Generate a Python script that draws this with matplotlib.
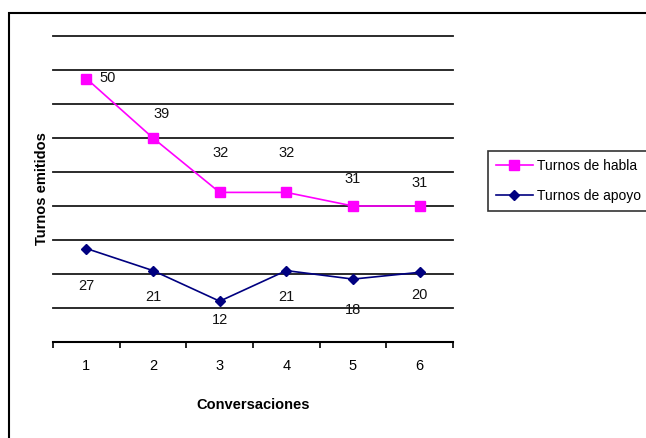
#!/usr/bin/env python3

import matplotlib
matplotlib.use("Agg")
import matplotlib.pyplot as plt
from matplotlib.patches import Rectangle

plt.rcParams["font.family"] = ["Liberation Sans", "DejaVu Sans"]

CONVERSACIONES = [1, 2, 3, 4, 5, 6]

HABLA_PLOT = [77.5, 60, 44, 44, 40, 40]
HABLA_LABELS = ["50", "39", "32", "32", "31", "31"]
APOYO_PLOT = [27.5, 21, 12, 21, 18.5, 20.5]
APOYO_LABELS = ["27", "21", "12", "21", "18", "20"]

SERIES_NAMES = ["Turnos de habla", "Turnos de apoyo"]

# label offsets in pixels (dx, dy)
HABLA_OFFSETS = [(21, 1), (9, 24), (1, 39), (0, 39), (0, 27), (0, 23)]
APOYO_OFFSETS = [(0, -37), (0, -26), (0, -19), (0, -26), (0, -31), (0, -23)]

PINK = "#ff00ff"
NAVY = "#000080"
FS = 10.5


def main() -> None:
    fig = plt.figure(figsize=(6.46, 4.38), dpi=100)
    W, H = 646, 438

    # outer chart frame (right/bottom edges fall outside the picture)
    fig.patches.append(
        Rectangle((9 / W, -0.2), 1.5, 1.2 - 13 / H, transform=fig.transFigure,
                  fill=False, edgecolor="black", linewidth=1.5)
    )

    left, right, top, bottom = 53, 453, 36, 342
    ax = fig.add_axes([left / W, 1 - bottom / H, (right - left) / W, (bottom - top) / H])

    ax.set_xlim(0.5, 6.5)
    ax.set_ylim(0, 90)

    for y in range(10, 100, 10):
        ax.axhline(y, color="#1a1a1a", linewidth=1.3, zorder=1, clip_on=False)

    ax.plot(CONVERSACIONES, HABLA_PLOT, color=PINK, linewidth=1.2, marker="s",
            markersize=6.5, markeredgecolor=PINK, label=SERIES_NAMES[0], zorder=3)
    ax.plot(CONVERSACIONES, APOYO_PLOT, color=NAVY, linewidth=1.2, marker="D",
            markersize=5, markeredgecolor=NAVY, label=SERIES_NAMES[1], zorder=3)

    for x, y, txt, (dx, dy) in zip(CONVERSACIONES, HABLA_PLOT, HABLA_LABELS, HABLA_OFFSETS):
        ax.annotate(txt, (x, y), xytext=(dx, dy), textcoords="offset pixels",
                    ha="center", va="center", fontsize=FS, color="#111111")
    for x, y, txt, (dx, dy) in zip(CONVERSACIONES, APOYO_PLOT, APOYO_LABELS, APOYO_OFFSETS):
        ax.annotate(txt, (x, y), xytext=(dx, dy), textcoords="offset pixels",
                    ha="center", va="center", fontsize=FS, color="#111111")

    for side in ["left", "right", "top"]:
        ax.spines[side].set_visible(False)
    ax.spines["bottom"].set_linewidth(1.5)
    ax.spines["bottom"].set_zorder(2)

    ax.set_yticks([])
    ax.set_xticks(CONVERSACIONES)
    ax.set_xticks([v + 0.5 for v in range(0, 7)], minor=True)
    ax.tick_params(axis="x", which="major", length=0, pad=12, labelsize=FS)
    ax.tick_params(axis="x", which="minor", length=4, width=1.2, direction="out")

    ax.set_xlabel("Conversaciones", fontsize=FS, fontweight="bold", labelpad=18)
    ax.set_ylabel("Turnos emitidos", fontsize=FS, fontweight="bold", labelpad=3)

    leg = fig.legend(loc="upper left", bbox_to_anchor=(488 / W, 1 - 151 / H),
                     fontsize=10, frameon=True, fancybox=False, handlelength=2.7,
                     handletextpad=0.3, labelspacing=1.2, borderpad=0.55,
                     borderaxespad=0)
    leg.get_frame().set_edgecolor("black")
    leg.get_frame().set_linewidth(1.2)

    fig.savefig("out.png", dpi=100)
    plt.close(fig)


if __name__ == "__main__":
    main()
